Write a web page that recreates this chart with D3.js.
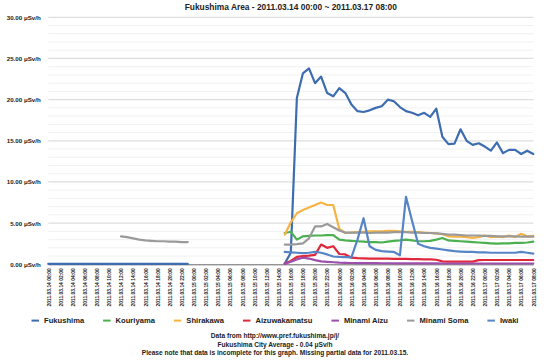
<!DOCTYPE html>
<html><head><meta charset="utf-8">
<script src="https://cdn.jsdelivr.net/npm/d3@7"></script>
<style>
html,body{margin:0;padding:0;background:#fff;}
svg{display:block;font-family:"Liberation Sans",Arial,Helvetica,sans-serif;}
</style></head><body>
<svg id="chart" width="550" height="363"></svg>
<script>
const _ = null;
const titleText = "Fukushima Area - 2011.03.14 00:00 ~ 2011.03.17 08:00";
const startTime = new Date(2011, 2, 14, 0, 0);
const endTime = new Date(2011, 2, 17, 8, 0);
const seriesNames = ["Fukushima","Kouriyama","Shirakawa","Aizuwakamatsu","Minami Aizu","Minami Soma","Iwaki"];
const seriesColors = ["#3d6cb0","#4caf50","#f5b443","#e0283c","#9c4fab","#9a9a9a","#5585c6"];
const yTicks = [0,5,10,15,20,25,30];
const footerLines = [
  "Data from http://www.pref.fukushima.jp/j/",
  "Fukushima City Average - 0.04 \u03bcSv/h",
  "Please note that data is incomplete for this graph. Missing partial data for 2011.03.15."
];
// hourly values, 2011.03.14 00:00 .. 2011.03.17 08:00 (81 hours)
const fukushima = [0.05,0.05,0.05,0.05,0.05,0.05,0.05,0.05,0.05,0.05,0.05,0.05,0.05,0.05,0.05,0.05,0.05,0.05,0.05,0.05,0.05,0.05,0.05,0.05,
  _,_,_,_,_,_,_,_,_,_,_,_,_,_,_,
  0.1,1.4,20.2,23.2,23.8,22.0,22.8,20.8,20.4,21.4,20.8,19.4,18.6,18.5,18.7,19.0,19.2,20.0,19.8,19.1,18.6,18.4,18.1,18.4,17.9,18.9,15.5,14.6,14.65,16.4,15.0,14.5,14.7,14.3,13.8,14.8,13.5,13.9,13.9,13.4,13.8,13.4];
const kouriyama = [_,_,_,_,_,_,_,_,_,_,_,_,_,_,_,_,_,_,_,_,_,_,_,_,_,_,_,_,_,_,_,_,_,_,_,_,_,_,_,
  3.8,3.95,3.0,3.4,3.45,3.5,3.5,3.55,3.55,3.0,2.9,2.85,2.8,2.75,2.7,2.7,2.65,2.75,2.85,2.9,3.0,2.9,2.8,2.8,2.85,3.0,3.2,2.9,2.85,2.8,2.75,2.7,2.65,2.6,2.55,2.5,2.55,2.55,2.6,2.6,2.65,2.75];
const shirakawa = [_,_,_,_,_,_,_,_,_,_,_,_,_,_,_,_,_,_,_,_,_,_,_,_,_,_,_,_,_,_,_,_,_,_,_,_,_,_,_,
  3.6,5.1,6.2,6.6,6.9,7.2,7.5,7.2,7.2,4.3,3.8,3.85,3.9,3.95,4.0,4.0,4.0,4.05,4.05,4.0,3.95,3.95,3.9,3.85,3.8,3.75,3.65,3.4,3.35,3.35,3.3,3.2,3.3,3.5,3.3,3.35,3.3,3.5,3.3,3.7,3.4,3.45];
const aizuwakamatsu = [_,_,_,_,_,_,_,_,_,_,_,_,_,_,_,_,_,_,_,_,_,_,_,_,_,_,_,_,_,_,_,_,_,_,_,_,_,_,_,
  0.1,0.4,0.9,1.0,1.05,1.15,2.4,2.0,2.2,1.25,1.2,0.8,0.75,0.72,0.7,0.7,0.68,0.68,0.66,0.65,0.65,0.64,0.62,0.6,0.6,0.55,0.35,0.33,0.33,0.33,0.33,0.33,0.5,0.52,0.52,0.52,0.52,0.52,0.52,0.52,0.52,0.52];
const minamiAizu = [_,_,_,_,_,_,_,_,_,_,_,_,_,_,_,_,_,_,_,_,_,_,_,_,_,_,_,_,_,_,_,_,_,_,_,_,_,_,_,
  0.05,0.3,0.6,0.8,0.7,0.5,0.35,0.3,0.25,0.2,0.18,0.16,0.15,0.15,0.14,0.14,0.13,0.13,0.12,0.12,0.12,0.12,0.11,0.11,0.11,0.11,0.1,0.1,0.1,0.1,0.1,0.1,0.1,0.1,0.1,0.1,0.1,0.1,0.1,0.1,0.1,0.1];
const minamiSoma = [_,_,_,_,_,_,_,_,_,_,_,_,
  3.4,3.3,3.15,3.0,2.9,2.85,2.8,2.8,2.75,2.75,2.7,2.7,
  _,_,_,_,_,_,_,_,_,_,_,_,_,_,_,
  2.4,2.4,2.45,2.55,3.15,4.6,4.6,4.9,4.5,4.1,3.85,3.85,3.85,3.85,3.8,3.85,3.85,3.85,3.9,3.9,3.9,3.85,3.85,3.8,3.8,3.75,3.7,3.6,3.6,3.55,3.5,3.5,3.5,3.45,3.45,3.4,3.4,3.4,3.4,3.35,3.35,3.35];
const iwaki = [_,_,_,_,_,_,_,_,_,_,_,_,_,_,_,_,_,_,_,_,_,_,_,_,_,_,_,_,_,_,_,_,_,_,_,_,_,_,_,
  1.5,1.45,1.4,1.35,1.4,1.5,1.4,1.2,0.95,0.9,0.88,0.85,3.0,5.6,2.2,1.75,1.6,1.55,1.5,1.1,8.2,5.3,2.5,2.2,2.0,1.9,1.8,1.7,1.6,1.55,1.5,1.5,1.45,1.45,1.4,1.4,1.4,1.4,1.4,1.5,1.4,1.3];
const seriesValues = [fukushima,kouriyama,shirakawa,aizuwakamatsu,minamiAizu,minamiSoma,iwaki];

(function () {
const svg = d3.select("#chart");
const times = d3.timeHour.range(startTime, d3.timeHour.offset(endTime, 1));
const plotL = 48.3, plotR = 533.3, plotT = 17.3, plotB = 264.3;
const x = d3.scaleTime().domain([startTime, endTime]).range([plotL, plotR]);
const y = d3.scaleLinear().domain([0, 30]).range([plotB, plotT]);

// grid
const g = svg.append("g");
g.selectAll("line.minor").data(d3.range(1, 30).filter(v => v % 5 !== 0)).join("line")
  .attr("class", "minor")
  .attr("x1", plotL).attr("x2", plotR).attr("y1", d => y(d)).attr("y2", d => y(d))
  .attr("stroke", "#f1f1f1").attr("stroke-width", 1);
g.selectAll("line.major").data(yTicks.filter(v => v > 0)).join("line")
  .attr("class", "major")
  .attr("x1", plotL).attr("x2", plotR).attr("y1", d => y(d)).attr("y2", d => y(d))
  .attr("stroke", "#dedede").attr("stroke-width", 1.3);

// title
svg.append("text").attr("x", (plotL + plotR) / 2).attr("y", 10)
  .attr("text-anchor", "middle").attr("font-size", 8.4).attr("font-weight", "bold")
  .attr("fill", "#222").text(titleText);

// y axis
const yAxis = svg.append("g").attr("transform", `translate(${plotL},0)`)
  .call(d3.axisLeft(y).tickValues(yTicks).tickSize(0).tickPadding(7.5)
    .tickFormat(d => d3.format(".2f")(d) + " \u03bcSv/h"));
yAxis.select(".domain").remove();
yAxis.selectAll("text").attr("font-size", 6.2).attr("font-weight", "bold").attr("fill", "#222")
  .attr("font-family", "Liberation Sans, Arial, sans-serif");

// x axis
const xAxis = svg.append("g").attr("transform", `translate(0,${plotB})`)
  .call(d3.axisBottom(x).ticks(d3.timeHour.every(2)).tickFormat(d3.timeFormat("%Y.%m.%d %H:%M"))
    .tickSize(0).tickSizeOuter(0));
xAxis.select(".domain").attr("stroke", "#666").attr("stroke-width", 1);
xAxis.selectAll("text").attr("font-size", 4.9).attr("font-weight", "bold").attr("fill", "#222")
  .attr("font-family", "Liberation Sans, Arial, sans-serif")
  .attr("transform", "rotate(-90)").attr("text-anchor", "end")
  .attr("x", -4).attr("y", 0).attr("dy", "0.35em");

// lines
const line = d3.line().defined(d => d != null).x((d, i) => x(times[i])).y(d => y(d));
svg.append("g").selectAll("path").data(seriesValues).join("path")
  .attr("d", d => line(d)).attr("fill", "none")
  .attr("stroke", (d, i) => seriesColors[i]).attr("stroke-width", 2.2)
  .attr("stroke-linejoin", "round").attr("stroke-linecap", "round");

// legend
const legend = svg.append("g");
let cx = 0;
seriesNames.forEach((name, i) => {
  const it = legend.append("g").attr("transform", `translate(${cx},0)`);
  it.append("line").attr("x1", 0).attr("x2", 7.5).attr("y1", 0).attr("y2", 0)
    .attr("stroke", seriesColors[i]).attr("stroke-width", 2);
  const t = it.append("text").attr("x", 12.5).attr("y", 0).attr("dy", "0.35em")
    .attr("font-size", 7.6).attr("font-weight", "bold").attr("fill", "#222").text(name);
  cx += 12.5 + t.node().getComputedTextLength() + 19;
});
const legW = cx - 19;
legend.attr("transform", `translate(${275 - legW / 2},320.6)`);

// footer
svg.append("g").selectAll("text").data(footerLines).join("text")
  .attr("x", 275).attr("y", (d, i) => 337.7 + i * 8.8)
  .attr("text-anchor", "middle").attr("font-size", 6.6).attr("font-weight", "bold")
  .attr("fill", "#222").text(d => d);
})();
</script>
</body></html>
